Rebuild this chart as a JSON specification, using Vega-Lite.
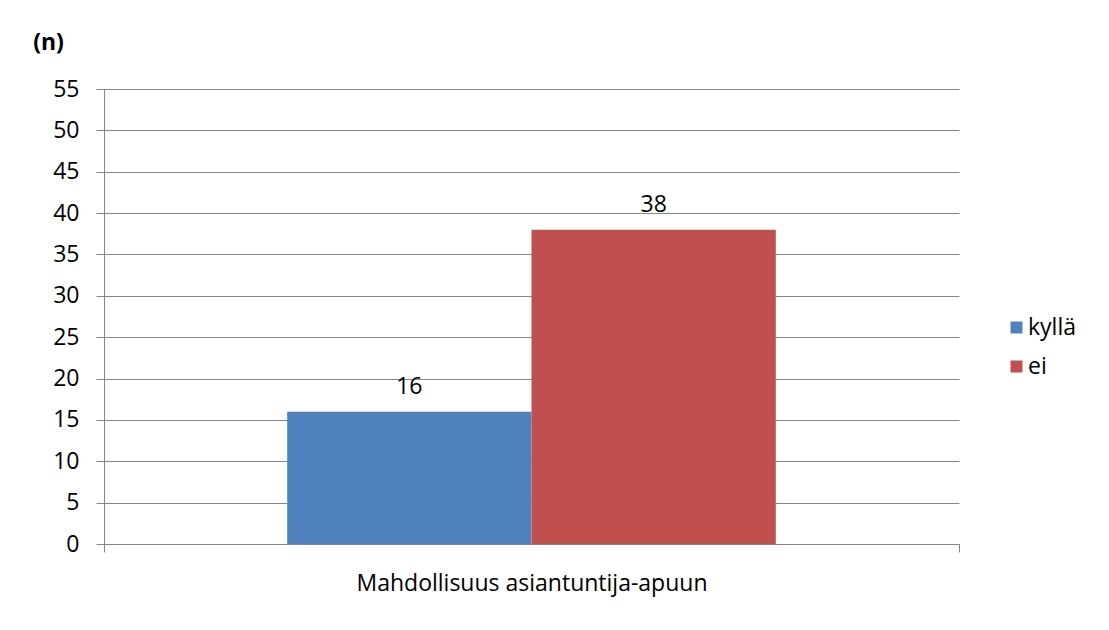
{
  "$schema": "https://vega.github.io/schema/vega-lite/v6.json",
  "autosize": {"type": "none"},
  "width": 855,
  "height": 455,
  "padding": {"left": 104, "top": 89, "right": 150, "bottom": 86},
  "background": "white",
  "config": {
    "view": {"stroke": null},
    "font": "Open Sans",
    "axis": {"labelFont": "Open Sans", "labelFontSize": 23, "labelColor": "black", "titleFont": "Open Sans"}
  },
  "data": {
    "values": [
      {"kategoria": "Mahdollisuus asiantuntija-apuun", "vastaus": "kyllä", "n": 16},
      {"kategoria": "Mahdollisuus asiantuntija-apuun", "vastaus": "ei", "n": 38}
    ]
  },
  "encoding": {
    "x": {
      "field": "kategoria",
      "type": "nominal",
      "scale": {"paddingInner": 0, "paddingOuter": 0},
      "axis": {
        "title": null,
        "labelAngle": 0,
        "labelLimit": 0,
        "domainColor": "#868686",
        "tickColor": "#868686",
        "tickSize": 8,
        "tickBand": "extent",
        "labelPadding": 20,
        "grid": false
      }
    },
    "xOffset": {
      "field": "vastaus",
      "type": "nominal",
      "sort": ["kyllä", "ei"],
      "scale": {"paddingInner": 0, "paddingOuter": 0.75}
    },
    "y": {
      "field": "n",
      "type": "quantitative",
      "scale": {"domain": [0, 55], "nice": false},
      "axis": {
        "title": "(n)",
        "titleAngle": 0,
        "titleFontWeight": "bold",
        "titleFontSize": 23,
        "titleX": -56,
        "titleY": -47,
        "titleAlign": "center",
        "titleBaseline": "middle",
        "values": [0, 5, 10, 15, 20, 25, 30, 35, 40, 45, 50, 55],
        "domainColor": "#868686",
        "tickColor": "#868686",
        "tickSize": 8,
        "gridColor": "#868686",
        "grid": true,
        "labelPadding": 17
      }
    }
  },
  "layer": [
    {
      "mark": {"type": "bar"},
      "encoding": {
        "color": {
          "field": "vastaus",
          "type": "nominal",
          "sort": ["kyllä", "ei"],
          "scale": {"domain": ["kyllä", "ei"], "range": ["#4F81BD", "#C0504D"]},
          "legend": {
            "title": null,
            "orient": "none",
            "legendX": 901,
            "legendY": 227,
            "symbolType": "square",
            "symbolSize": 144,
            "symbolStrokeWidth": 0,
            "labelFont": "Open Sans",
            "labelFontSize": 23,
            "labelColor": "black",
            "rowPadding": 15,
            "labelOffset": 0
          }
        }
      }
    },
    {
      "mark": {"type": "text", "fontSize": 23, "font": "Open Sans", "color": "black", "baseline": "alphabetic", "dy": -18},
      "encoding": {
        "text": {"field": "n", "type": "quantitative"}
      }
    }
  ]
}
